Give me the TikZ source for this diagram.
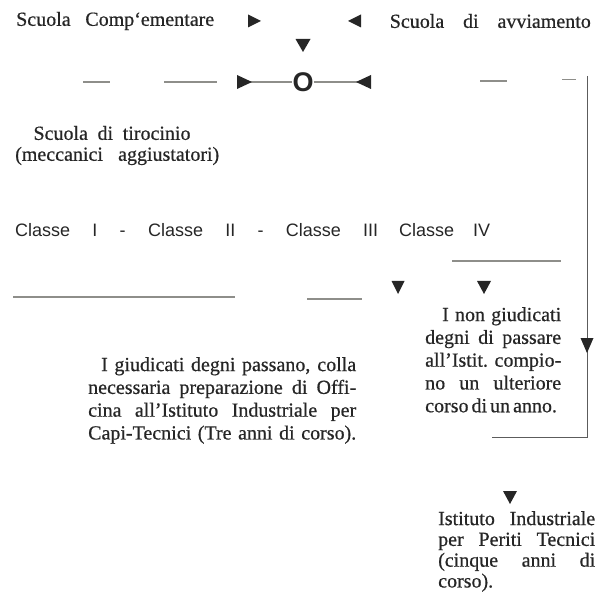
\documentclass[tikz,border=0pt]{standalone}
\usepackage{fontspec}
\setmainfont{Liberation Serif}[FakeBold=0.6]
\setsansfont{Liberation Sans}
\usetikzlibrary{calc,shapes,positioning}

\definecolor{inchiostro}{HTML}{262626}
\definecolor{tratto}{HTML}{8E8E8A}

\tikzset{
  testo/.style={inner sep=0pt, text=inchiostro, font=\fontsize{20}{22.8}\selectfont},
  classe/.style={inner sep=0pt, text=inchiostro, font=\sffamily\fontsize{18}{20}\selectfont},
  riga/.style={draw=tratto, line width=1.3pt},
  filo/.style={draw=inchiostro!75, line width=0.9pt},
  punta/.style={fill=inchiostro},
}

\begin{document}
\begin{tikzpicture}[x=1pt,y=-1pt]
\useasboundingbox (0,0) rectangle (608,596);

% riga delle scuole
\node[testo,anchor=west] (compl) at (16,21) {\makebox[198pt][s]{Scuola Comp‘ementare}};
\node[testo,anchor=east] (avv) at (591,21) {\makebox[201pt][s]{Scuola di avviamento}};
\coordinate (pCompl) at (254,21);
\coordinate (pAvv) at (355,21);
\coordinate (pGiu) at (303,45);

% riga del centro
\node[inner sep=0pt, text=inchiostro, font=\sffamily\bfseries\fontsize{27}{27}\selectfont] (centro) at (303,82) {O};
\coordinate (pSin) at (244,82);
\coordinate (pDes) at (364,82);
\coordinate (t1a) at (83,82);  \coordinate (t1b) at (110,82);
\coordinate (t2a) at (164,82); \coordinate (t2b) at (217,82);
\coordinate (t3a) at (480,81); \coordinate (t3b) at (507,81);
\coordinate (t4a) at (562,80); \coordinate (t4b) at (576,80);
\coordinate (vAlto) at (587,76);
\coordinate (vBasso) at (587,437);
\coordinate (hSin) at (492,437);
\coordinate (pVert) at (587,345);

\draw[riga] (t1a) -- (t1b);
\draw[riga] (t2a) -- (t2b);
\draw[riga] (pSin) -- (centro);
\draw[riga] (centro) -- (pDes);
\draw[riga] (t3a) -- (t3b);
\draw[riga,line width=1pt] (t4a) -- (t4b);
\draw[filo] (vAlto) -- (vBasso) -- (hSin);

% tirocinio
\node[testo] (tiroc) at (112,133) {\makebox[157pt][s]{Scuola di tirocinio}};
\node[testo,anchor=west] (mecc) at (15,156) {\makebox[204pt][s]{(meccanici aggiustatori)}};

% classi
\node[classe,anchor=west] (classi) at (15,230) {\makebox[363pt][s]{Classe I - Classe II - Classe III}};
\node[classe,anchor=west] (classe4) at (399,230) {\makebox[91pt][s]{Classe IV}};

\coordinate (l1a) at (452,261); \coordinate (l1b) at (561,261);
\coordinate (l2a) at (13,297);  \coordinate (l2b) at (235,297);
\coordinate (l3a) at (307,299); \coordinate (l3b) at (362,299);
\draw[riga] (l1a) -- (l1b);
\draw[riga] (l2a) -- (l2b);
\draw[riga,line width=1.6pt] (l3a) -- (l3b);
\coordinate (pPic) at (398,287);
\coordinate (pNon) at (484,287);

% i due esiti
\node[testo,anchor=north west,align=left] (nonGiud) at (425,307) {%
  \hspace*{17pt}\makebox[119pt][s]{I non giudicati}\\
  \makebox[136pt][s]{degni di passare}\\
  \makebox[136pt][s]{all’Istit. compio-}\\
  \makebox[136pt][s]{no un ulteriore}\\
  \makebox[136pt][l]{corso\hspace{3pt}di\hspace{3pt}un\hspace{3pt}anno.}};

\node[testo,anchor=north west,align=left] (giud) at (88,357) {%
  \hspace*{13pt}\makebox[255pt][s]{I giudicati degni passano, colla}\\
  \makebox[268pt][s]{necessaria preparazione di Offi-}\\
  \makebox[268pt][s]{cina all’Istituto Industriale per}\\
  \makebox[268pt][s]{Capi-Tecnici (Tre anni di corso).}};

\coordinate (pPeriti) at (510,497);
\node[testo,anchor=north west,align=left,font=\fontsize{20}{20.8}\selectfont] (periti) at (438,511) {%
  \makebox[157pt][s]{Istituto Industriale}\\
  \makebox[157pt][s]{per Periti Tecnici}\\
  \makebox[157pt][s]{(cinque anni di}\\
  corso).};

% punte
\fill[punta] ($(pCompl)+(-6,-6.5)$) -- ($(pCompl)+(7,0)$) -- ($(pCompl)+(-6,6.5)$) -- cycle;
\fill[punta] ($(pAvv)+(6,-6.5)$) -- ($(pAvv)+(-7,0)$) -- ($(pAvv)+(6,6.5)$) -- cycle;
\fill[punta] ($(pGiu)+(-7.5,-6)$) -- ($(pGiu)+(7.5,-6)$) -- ($(pGiu)+(0,7)$) -- cycle;
\fill[punta] ($(pSin)+(-7,-7)$) -- ($(pSin)+(8,0)$) -- ($(pSin)+(-7,7)$) -- cycle;
\fill[punta] ($(pDes)+(7,-7)$) -- ($(pDes)+(-8,0)$) -- ($(pDes)+(7,7)$) -- cycle;
\fill[punta] ($(pPic)+(-6.5,-6)$) -- ($(pPic)+(6.5,-6)$) -- ($(pPic)+(0,7)$) -- cycle;
\fill[punta] ($(pNon)+(-7,-6)$) -- ($(pNon)+(7,-6)$) -- ($(pNon)+(0,7)$) -- cycle;
\fill[punta] ($(pVert)+(-6.5,-7)$) -- ($(pVert)+(6.5,-7)$) -- ($(pVert)+(0,8)$) -- cycle;
\fill[punta] ($(pPeriti)+(-7,-6)$) -- ($(pPeriti)+(7,-6)$) -- ($(pPeriti)+(0,7)$) -- cycle;

\end{tikzpicture}
\end{document}
